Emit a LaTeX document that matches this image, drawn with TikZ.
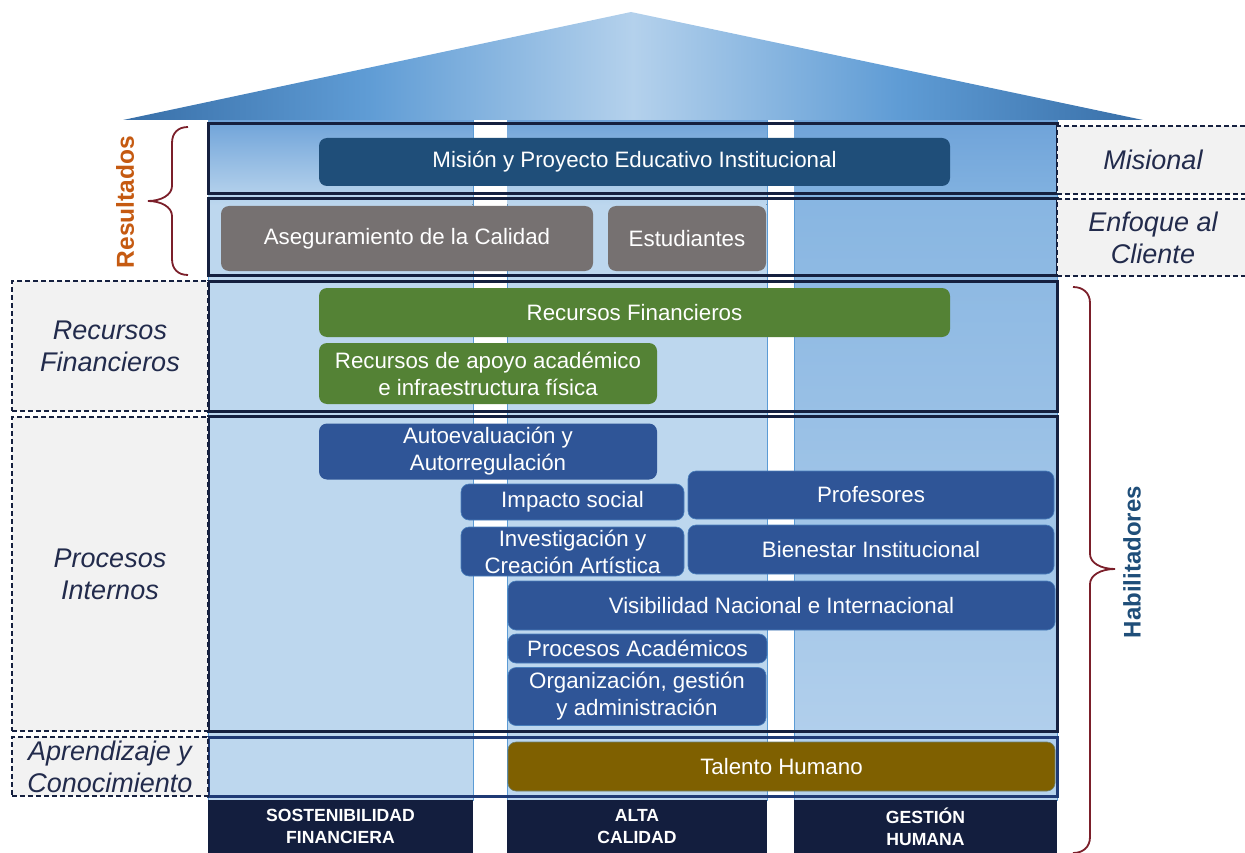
\documentclass[tikz,border=0pt]{standalone}
\usepackage{fontspec}
\setmainfont{Liberation Sans}
\usetikzlibrary{positioning}
\definecolor{navy}{HTML}{15203F}
\definecolor{framedeep}{HTML}{1F3A75}
\definecolor{sidegray}{HTML}{F2F2F2}
\definecolor{sidetext}{HTML}{222B4C}
\definecolor{pillarfill}{HTML}{BDD7EE}
\definecolor{pillarlow}{HTML}{B6D2ED}
\definecolor{pillartop}{HTML}{6FA3D9}
\definecolor{pillardeep}{HTML}{82B2E0}
\definecolor{pillarline}{HTML}{5B9BD5}
\definecolor{roofdark}{HTML}{386FA8}
\definecolor{roofmid}{HTML}{5F9CD5}
\definecolor{rooflight}{HTML}{B4D1EC}
\definecolor{mission}{HTML}{1F4E79}
\definecolor{stone}{HTML}{767171}
\definecolor{leaf}{HTML}{548235}
\definecolor{process}{HTML}{2F5597}
\definecolor{talent}{HTML}{7F6000}
\definecolor{base}{HTML}{131E3E}
\definecolor{bracered}{HTML}{7B1F2A}
\definecolor{resorange}{HTML}{C55A11}
\definecolor{habblue}{HTML}{1F4E79}
\pgfdeclarehorizontalshading{roofshade}{100bp}{color(0bp)=(roofdark); color(25bp)=(roofdark);
  color(37bp)=(roofmid); color(50bp)=(rooflight); color(63bp)=(roofmid);
  color(75bp)=(roofdark); color(100bp)=(roofdark)}

\begin{document}
\begin{tikzpicture}[x=1pt,y=-1pt,inner sep=0pt,outer sep=0pt,
  pillar/.style={draw=pillarline,line width=0.8pt,fill=pillarfill},
  row frame/.style={draw=navy,line width=3pt},
  side box/.style={draw=navy,fill=sidegray,line width=1.3pt,dash pattern=on 5pt off 3pt,
    align=center,text=sidetext,font=\itshape\fontsize{27}{32}\selectfont},
  item box/.style={rounded corners=8pt,align=center,text=white,
    font=\fontsize{22.3}{27}\selectfont},
  base label/.style={fill=base,text=white,align=center,minimum height=53pt,
    font=\bfseries\fontsize{17.6}{22}\selectfont},
  brace line/.style={draw=bracered,line width=1.8pt}]
  \useasboundingbox (0,0) rectangle (1245,853);

  % pillars
  \node[pillar,minimum width=265pt,minimum height=680pt] (P1) at (340.5,460) {};
  \node[pillar,minimum width=260pt,minimum height=680pt] (P2) at (637,460) {};
  \node[pillar,minimum width=263pt,minimum height=680pt,top color=pillardeep,bottom color=pillarlow] (P3) at (925.5,460) {};
  \fill[top color=pillartop,bottom color=pillarfill] (208.4,120) rectangle (472.6,205);
  \fill[top color=pillartop,bottom color=pillarfill] (507.4,120) rectangle (766.6,205);
  \fill[top color=pillartop,bottom color=pillardeep] (794.4,120) rectangle (1056.6,200);

  % roof
  \shade[shading=roofshade] (123,120) -- (631,12) -- (1143,120) -- cycle;

  % rows
  \node[row frame,minimum width=849pt,minimum height=70pt] (R1) at (632.5,159) {};
  \node[row frame,minimum width=849pt,minimum height=76pt] (R2) at (632.5,237) {};
  \node[row frame,minimum width=849pt,minimum height=130pt] (R3) at (632.5,346) {};
  \node[row frame,minimum width=849pt,minimum height=315pt] (R4) at (632.5,573.5) {};
  \node[row frame,draw=framedeep,minimum width=849pt,minimum height=59pt] (R5) at (632.5,766.5) {};

  % side labels
  \node[side box,minimum width=192pt,minimum height=68pt] (Mis) at (1153,160) {Misional};
  \node[side box,minimum width=192pt,minimum height=77pt] (Enf) at (1153,237.5) {Enfoque al\\Cliente};
  \node[side box,minimum width=196pt,minimum height=130pt] (RF) at (110,346) {Recursos\\Financieros};
  \node[side box,minimum width=196pt,minimum height=314pt] (PI) at (110,574) {Procesos\\Internos};
  \node[side box,minimum width=196pt,minimum height=59pt] (AyC) at (110,766.5) {Aprendizaje y\\Conocimiento};

  % boxes
  \node[item box,fill=mission,minimum width=631pt,minimum height=48pt] (MPE) at (634.5,162) {Misión y Proyecto Educativo Institucional};
  \node[item box,fill=stone,minimum width=372pt,minimum height=65pt] (Aseg) at (407,238.5) {Aseguramiento de la Calidad};
  \node[item box,fill=stone,minimum width=158pt,minimum height=65pt,right=15pt of Aseg] (Est) {Estudiantes};
  \node[item box,fill=leaf,minimum width=631pt,minimum height=49pt] (RecF) at (634.5,312.5) {Recursos Financieros};
  \node[item box,fill=leaf,minimum width=338pt,minimum height=61pt] (RecA) at (488,373.5) {Recursos de apoyo académico\\e infraestructura física};
  \node[item box,fill=process,minimum width=338pt,minimum height=56pt] (Auto) at (488,451.5) {Autoevaluación y\\Autorregulación};
  \node[item box,fill=process,draw=pillarline!60!process,line width=0.6pt,minimum width=223pt,minimum height=36pt] (Imp) at (572.5,502) {Impacto social};
  \node[item box,fill=process,draw=pillarline!60!process,line width=0.6pt,minimum width=223pt,minimum height=49pt] (Inv) at (572.5,551.5) {Investigación y\\Creación Artística};
  \node[item box,fill=process,draw=pillarline!60!process,line width=0.6pt,minimum width=366pt,minimum height=48pt] (Prof) at (871,495) {Profesores};
  \node[item box,fill=process,draw=pillarline!60!process,line width=0.6pt,minimum width=366pt,minimum height=49pt] (Bien) at (871,549.5) {Bienestar Institucional};
  \node[item box,fill=process,draw=pillarline!60!process,line width=0.6pt,minimum width=547pt,minimum height=49pt] (Vis) at (781.5,605.5) {Visibilidad Nacional e Internacional};
  \node[item box,fill=process,draw=pillarline!60!process,line width=0.6pt,minimum width=259pt,minimum height=29pt] (ProA) at (637.5,648.5) {Procesos Académicos};
  \node[item box,fill=process,draw=pillarline!60!process,line width=0.6pt,minimum width=258pt,minimum height=58pt] (Org) at (637,696.5) {Organización, gestión\\y administración};
  \node[item box,fill=talent,draw=pillarline!50!talent,line width=0.6pt,minimum width=547pt,minimum height=49pt] (Tal) at (781.5,766.5) {Talento Humano};

  % bases
  \node[base label,minimum width=265pt,below=0pt of P1] (B1) {SOSTENIBILIDAD\\FINANCIERA};
  \node[base label,minimum width=260pt,below=0pt of P2] (B2) {ALTA\\CALIDAD};
  \node[base label,minimum width=263pt,below=0pt of P3] (B3) {GESTIÓN\\HUMANA};

  % braces
  \coordinate (resTop) at (188,127);
  \coordinate (habTop) at (1073,287);
  \draw[brace line] (resTop) .. controls (178,127) and (172,133) .. (172,143) -- (172,186)
    .. controls (172,195) and (161,201) .. (148,201) .. controls (161,201) and (172,207) .. (172,216)
    -- (172,259) .. controls (172,269) and (178,275) .. (188,275);
  \draw[brace line] (habTop) .. controls (1083,287) and (1090,293) .. (1090,303) -- (1090,554)
    .. controls (1090,563) and (1101,569) .. (1115,569) .. controls (1101,569) and (1090,575) .. (1090,584)
    -- (1090,837) .. controls (1090,847) and (1083,853) .. (1073,853);
  \node[rotate=90,text=resorange,font=\bfseries\fontsize{24.5}{28}\selectfont] (Res) at (125,202) {Resultados};
  \node[rotate=90,text=habblue,font=\bfseries\fontsize{24}{28}\selectfont] (Hab) at (1132,562) {Habilitadores};
\end{tikzpicture}
\end{document}
